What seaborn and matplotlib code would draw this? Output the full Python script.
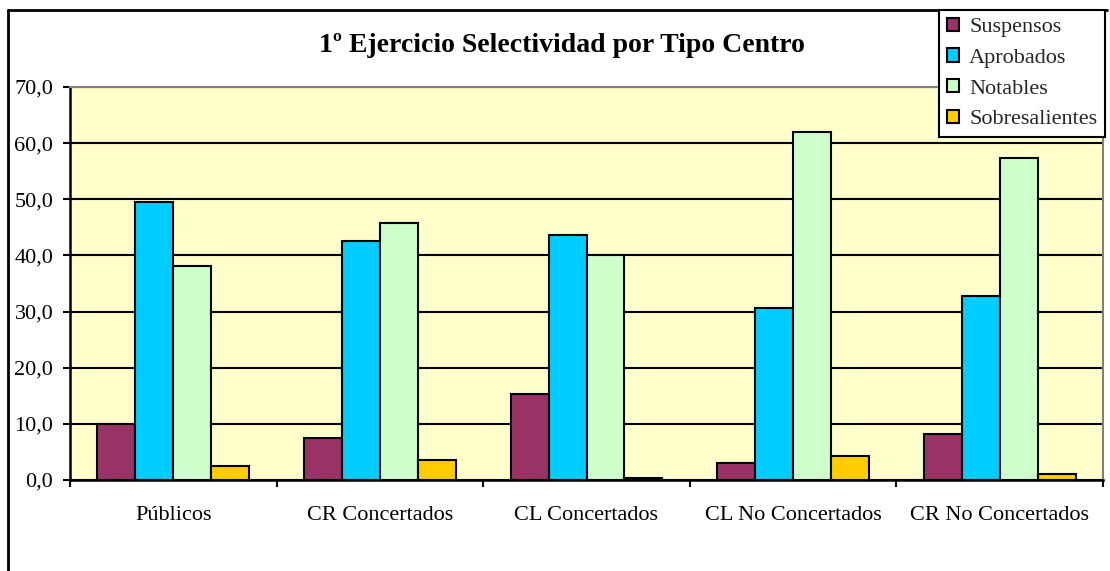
import matplotlib
matplotlib.use("Agg")
import matplotlib.pyplot as plt
import matplotlib.lines as mlines
from matplotlib.ticker import FixedLocator, FuncFormatter
import seaborn as sns
import pandas as pd

categories = ["Públicos", "CR Concertados", "CL Concertados", "CL No Concertados", "CR No Concertados"]
series = ["Suspensos", "Aprobados", "Notables", "Sobresalientes"]
suspensos = [9.9, 7.5, 15.3, 3.0, 8.2]
aprobados = [49.6, 42.6, 43.7, 30.6, 32.7]
notables = [38.1, 45.7, 40.0, 61.9, 57.3]
sobresalientes = [2.5, 3.6, 0.4, 4.3, 1.1]
colors = ["#993366", "#00CCFF", "#CCFFCC", "#FFCC00"]
title = "1º Ejercicio Selectividad por Tipo Centro"

rows = []
for s, vals in zip(series, [suspensos, aprobados, notables, sobresalientes]):
    for c, v in zip(categories, vals):
        rows.append({"Centro": c, "Serie": s, "Valor": v})
df = pd.DataFrame(rows)

sns.set_theme(style="white")
plt.rcParams["font.family"] = ["Liberation Serif", "DejaVu Serif"]

fig = plt.figure(figsize=(11.1, 5.71), dpi=100)
ax = fig.add_axes([70/1110, 91/571, 1033/1110, 393/571])
ax.set_facecolor("#FFFFCC")

sns.barplot(data=df, x="Centro", y="Valor", hue="Serie", order=categories,
            hue_order=series, palette=colors, width=0.735, edgecolor="black",
            linewidth=1.5, saturation=1, ax=ax, legend=True, zorder=3)

ax.set_ylim(0, 70)
ax.set_xlim(-0.5, len(categories) - 0.5)
ax.set_yticks(range(0, 71, 10))
ax.yaxis.set_major_formatter(FuncFormatter(lambda v, p: f"{v:.1f}".replace(".", ",")))
ax.yaxis.grid(True, color="black", linewidth=1.5, zorder=0)
ax.set_axisbelow(True)
ax.set_xlabel("")
ax.set_ylabel("")

for side in ["left", "bottom"]:
    ax.spines[side].set_color("black")
    ax.spines[side].set_linewidth(1.8)
for side in ["top", "right"]:
    ax.spines[side].set_color("#808080")
    ax.spines[side].set_linewidth(1.5)

ax.tick_params(axis="y", which="major", left=True, length=5, width=1.5, color="black",
               labelsize=16, pad=7, labelcolor="black")
ax.tick_params(axis="x", which="major", bottom=False, length=0, labelsize=16, pad=19,
               labelcolor="black")
ax.xaxis.set_minor_locator(FixedLocator([i + 0.5 for i in range(-1, len(categories))]))
ax.tick_params(axis="x", which="minor", bottom=True, length=5, width=1.5, color="black")

ax.get_legend().remove()
handles = [plt.Rectangle((0, 0), 1, 1, facecolor=c, edgecolor="black", linewidth=1.5) for c in colors]
leg = fig.legend(handles, series, loc="upper right", bbox_to_anchor=(1105/1110, 1 - 10/571),
                 frameon=True, fancybox=False, framealpha=1, edgecolor="black",
                 fontsize=16, handlelength=0.55, handleheight=0.55, handletextpad=0.45,
                 labelspacing=0.5, borderpad=0.35, borderaxespad=0)
leg.get_frame().set_linewidth(1.5)

fig.text(562/1110, 1 - 45/571, title, ha="center", va="center", fontsize=20,
         fontweight="bold", color="black")

fig.add_artist(mlines.Line2D([8/1110, 8/1110], [0, 1 - 10/571], color="black", linewidth=2,
                             transform=fig.transFigure))
fig.add_artist(mlines.Line2D([8/1110, 1107/1110], [1 - 10/571, 1 - 10/571], color="black",
                             linewidth=2, transform=fig.transFigure))

fig.savefig("out.png", dpi=100)
